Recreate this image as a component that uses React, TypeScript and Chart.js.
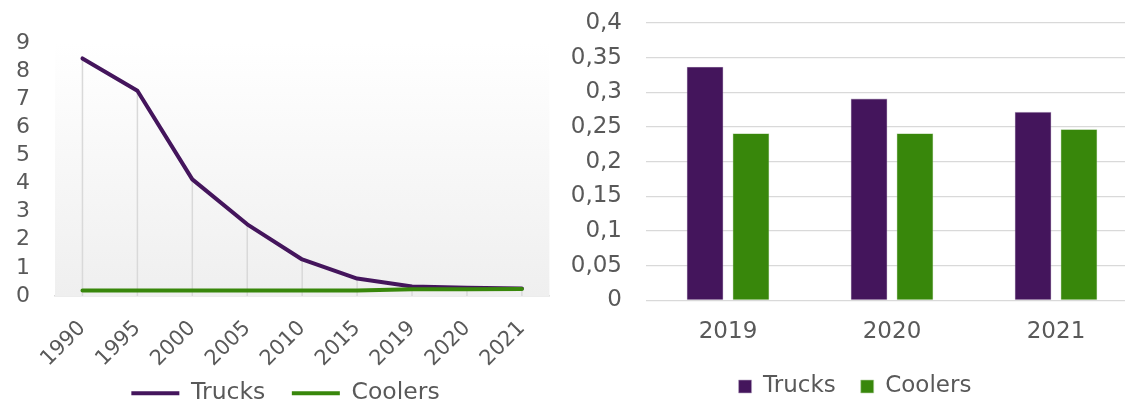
import React, { useEffect, useRef } from 'react';
import { Chart, registerables } from 'chart.js';
Chart.register(...registerables);

const lineYears = ['1990', '1995', '2000', '2005', '2010', '2015', '2019', '2020', '2021'];
const lineTrucks = [8.45, 7.3, 4.15, 2.55, 1.3, 0.62, 0.34, 0.29, 0.27];
const lineCoolers = [0.2, 0.2, 0.2, 0.2, 0.2, 0.2, 0.24, 0.24, 0.25];

const barYears = ['2019', '2020', '2021'];
const barTrucks = [0.337, 0.291, 0.272];
const barCoolers = [0.241, 0.241, 0.247];

const PURPLE = '#44155C';
const GREEN = '#38870B';
const TEXT = '#595959';
const FONT = "'DejaVu Sans', Verdana, sans-serif";

const bgPlugin = {
  id: 'bgGradient',
  beforeDatasetsDraw(chart: any) {
    const { ctx, chartArea } = chart;
    const g = ctx.createLinearGradient(0, chartArea.top, 0, chartArea.bottom);
    g.addColorStop(0, '#ffffff');
    g.addColorStop(1, '#efefef');
    ctx.save();
    ctx.fillStyle = g;
    ctx.fillRect(chartArea.left, chartArea.top, chartArea.right - chartArea.left, chartArea.bottom - chartArea.top);
    const metas = chart.getSortedVisibleDatasetMetas();
    const n = chart.data.labels.length;
    ctx.strokeStyle = '#d9d9d9';
    ctx.lineWidth = 1.5;
    for (let i = 0; i < n; i++) {
      let minY = Infinity;
      let x = 0;
      metas.forEach((m: any) => {
        const p = m.data[i];
        if (p && p.y < minY) { minY = p.y; x = p.x; }
      });
      ctx.beginPath();
      ctx.moveTo(x, minY);
      ctx.lineTo(x, chartArea.bottom);
      ctx.stroke();
    }
    ctx.restore();
  },
};

// lift the legend a little so it sits closer to the rotated axis labels
const legendLift = {
  id: 'legendLift',
  afterLayout(chart: any) {
    const lg = chart.legend;
    if (lg) {
      lg.top -= 17;
      lg.bottom -= 17;
    }
  },
};

function LineChart() {
  const ref = useRef<HTMLCanvasElement>(null);
  useEffect(() => {
    const chart = new Chart(ref.current!, {
      type: 'line',
      data: {
        labels: lineYears,
        datasets: [
          { label: 'Trucks', data: lineTrucks, borderColor: PURPLE, backgroundColor: PURPLE, borderWidth: 4, pointRadius: 0, borderCapStyle: 'round', borderJoinStyle: 'round', order: 1 },
          { label: 'Coolers', data: lineCoolers, borderColor: GREEN, backgroundColor: GREEN, borderWidth: 4, pointRadius: 0, borderCapStyle: 'round', borderJoinStyle: 'round', order: 0 },
        ],
      },
      options: {
        responsive: false,
        animation: false,
        layout: { padding: { left: 16, right: 5, top: 43, bottom: 0 } },
        plugins: {
          tooltip: { enabled: false },
          legend: {
            position: 'bottom',
            labels: {
              usePointStyle: true,
              pointStyle: 'line',
              pointStyleWidth: 48,
              boxHeight: 22,
              padding: 26.5,
              color: TEXT,
              font: { family: FONT, size: 23.5 },
              sort: (a: any, b: any) => a.datasetIndex - b.datasetIndex,
            },
          },
        },
        scales: {
          x: {
            offset: true,
            grid: { display: false, drawTicks: false },
            border: { display: true, color: '#d9d9d9', width: 1.5 },
            ticks: { autoSkip: false, minRotation: 45, maxRotation: 45, padding: 20, color: TEXT, font: { family: FONT, size: 21 } },
            afterFit: (s: any) => { s.height = 76; },
          },
          y: {
            min: 0,
            max: 9,
            grid: { display: false, drawTicks: false },
            border: { display: false },
            ticks: { stepSize: 1, autoSkip: false, padding: 25, color: TEXT, font: { family: FONT, size: 22 } },
            afterFit: (s: any) => { s.width = 39; s.paddingTop = 13; s.paddingBottom = 13; },
          },
        },
      },
      plugins: [bgPlugin, legendLift],
    } as any);
    return () => chart.destroy();
  }, []);
  return <canvas ref={ref} width={560} height={432} />;
}

function BarChart() {
  const ref = useRef<HTMLCanvasElement>(null);
  useEffect(() => {
    const chart = new Chart(ref.current!, {
      type: 'bar',
      data: {
        labels: barYears,
        datasets: [
          { label: 'Trucks', data: barTrucks, backgroundColor: PURPLE, borderColor: '#b9a8c4', borderWidth: 0.6, categoryPercentage: 0.56, barPercentage: 0.8 },
          { label: 'Coolers', data: barCoolers, backgroundColor: GREEN, borderColor: '#b8d4a8', borderWidth: 0.6, categoryPercentage: 0.56, barPercentage: 0.8 },
        ],
      },
      options: {
        responsive: false,
        animation: false,
        layout: { padding: { left: 12, right: 2, top: 23, bottom: 0 } },
        plugins: {
          tooltip: { enabled: false },
          legend: {
            position: 'bottom',
            labels: {
              boxWidth: 13,
              boxHeight: 13,
              padding: 25,
              color: TEXT,
              font: { family: FONT, size: 23 },
            },
          },
        },
        scales: {
          x: {
            grid: { display: false, drawTicks: false },
            border: { display: false },
            ticks: { padding: 18, color: TEXT, font: { family: FONT, size: 23 } },
            afterFit: (s: any) => { s.height = 49.5; },
          },
          y: {
            min: 0,
            max: 0.4,
            grid: { color: '#d9d9d9', lineWidth: 1.3, drawTicks: false },
            border: { display: false },
            ticks: {
              stepSize: 0.05,
              padding: 24,
              color: TEXT,
              font: { family: FONT, size: 23 },
              callback: (v: any) => String(Math.round(Number(v) * 100) / 100).replace('.', ','),
            },
            afterFit: (s: any) => { s.width = 74; s.paddingTop = 14; s.paddingBottom = 14; },
          },
        },
      },
    } as any);
    return () => chart.destroy();
  }, []);
  return <canvas ref={ref} width={580} height={408} />;
}

export default function App() {
  return (
    <div style={{ position: 'absolute', left: 0, top: 0, width: 1125, height: 403, overflow: 'hidden', background: '#fff' }}>
      <div style={{ position: 'absolute', left: 0, top: 0, width: 560, height: 403, overflow: 'hidden' }}>
        <LineChart />
      </div>
      <div style={{ position: 'absolute', left: 560, top: 0, width: 565, height: 403, overflow: 'hidden' }}>
        <BarChart />
      </div>
    </div>
  );
}
